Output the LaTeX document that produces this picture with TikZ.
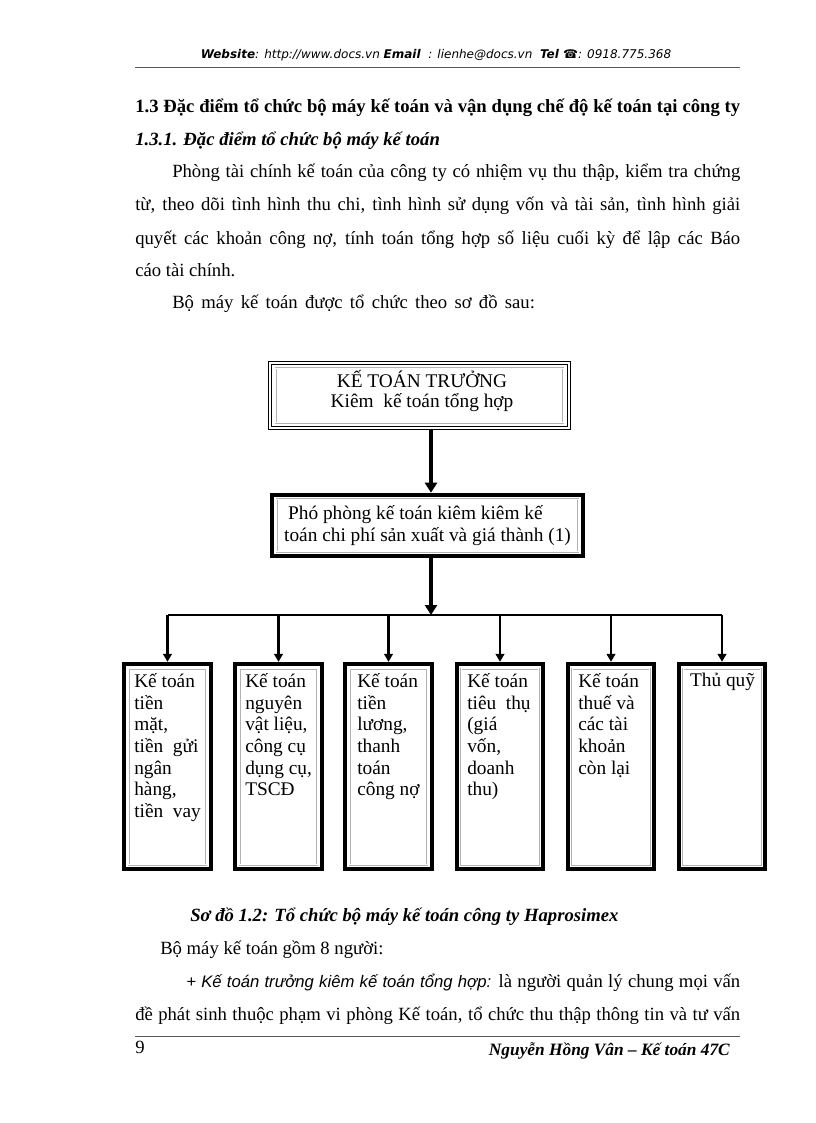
\documentclass[tikz,border=0pt]{standalone}
\usepackage{fontspec}
\setmainfont{Liberation Serif}
\newfontfamily\webfont{DejaVu Sans}
\newfontfamily\plusfont{Liberation Sans}
\usetikzlibrary{arrows.meta,fit}
\newcommand\docsize{\fontsize{14pt}{16pt}\selectfont}
\newcommand\boxsize{\fontsize{14.5pt}{16.3pt}\selectfont}
\tikzset{
  head box/.style={
    draw=black, line width=0.6pt, double=white, double distance=1.8pt,
    minimum width=224pt, minimum height=49pt, inner sep=0pt,
  },
  lead box/.style={
    draw=black, line width=3.2pt,
    minimum width=233pt, minimum height=46pt, inner sep=0pt,
    align=left, font=\boxsize,
  },
  unit box/.style={
    draw=black, line width=3pt,
    minimum width=65pt, minimum height=154pt, inner sep=0pt,
  },
  inner line/.style={
    draw=gray!60, line width=0.4pt, double=white, double distance=0.7pt,
  },
  box text/.style={
    inner sep=0pt, align=left, font=\boxsize,
  },
  body/.style={
    anchor=base west, inner sep=0pt, font=\docsize,
  },
  main arrow/.style={
    line width=2.6pt, -{Triangle[length=7.5pt,width=9pt]},
  },
  drop arrow/.style={
    line width=1.8pt, -{Triangle[length=6pt,width=6.5pt]},
  },
}
\begin{document}
\begin{tikzpicture}[x=0.75pt,y=0.75pt,yscale=-1,xscale=1]
\useasboundingbox (0,0) rectangle (816,1123);
\fill[white] (0,0) rectangle (816,1123);

% Header
\node [anchor=base, inner sep=0pt, font=\webfont\fontsize{9pt}{11pt}\selectfont\itshape] (web) at (436,59)
  {{\bfseries Website}: http://www.docs.vn {\bfseries Email} \ : lienhe@docs.vn \ {\bfseries Tel ☎}: 0918.775.368};
\draw [gray!70!black, line width=0.5pt] (135,67) -- (740,67);

% Text Node
\node [body, font=\docsize\bfseries] (h13) at (135,113)
  {\hbox to 453.75pt{1.3 Đặc điểm tổ chức bộ máy kế toán và vận dụng chế độ kế toán tại công ty}};
\node [body, font=\docsize\bfseries\itshape] (h131) at (135,146) {1.3.1. Đặc điểm tổ chức bộ máy kế toán};
\node [body] (p1) at (172,178) {\hbox to 426pt{Phòng tài chính kế toán của công ty có nhiệm vụ thu thập, kiểm tra chứng}};
\node [body] (p2) at (135,211) {\hbox to 453.75pt{từ, theo dõi tình hình thu chi, tình hình sử dụng vốn và tài sản, tình hình giải}};
\node [body] (p3) at (135,244) {\hbox to 453.75pt{quyết các khoản công nợ, tính toán tổng hợp số liệu cuối kỳ để lập các Báo}};
\node [body] (p4) at (135,276) {cáo tài chính.};
\node [body] (p5) at (172,308) {\hbox to 272pt{Bộ máy kế toán được tổ chức theo sơ đồ sau:}};

% Boxes
\node [head box] (ktt) at (419.5,395.5) {};
\node [inner line, fit=(ktt), inner sep=-4.5pt] (ktt i) {};
\node [inner sep=0pt, align=center, font=\boxsize] (ktt t) at (422,391)
  {KẾ TOÁN TRƯỞNG\\[-1.5pt]Kiêm \ kế toán tổng hợp};
\node [lead box] (pp) at (427.5,525.5) {\hspace{3pt}Phó phòng kế toán kiêm kiêm kế\\toán chi phí sản xuất và giá thành (1)};
\node [unit box] (kt1) at (167.5,766.5) {};
\node [unit box] (kt2) at (278.5,766.5) {};
\node [unit box] (kt3) at (388.5,766.5) {};
\node [unit box] (kt4) at (500,766.5) {};
\node [unit box] (kt5) at (611,766.5) {};
\node [unit box] (kt6) at (722,766.5) {};
\foreach \n in {pp,kt1,kt2,kt3,kt4,kt5,kt6}
  \node [inner line, fit=(\n), inner sep=-5pt] (\n i) {};

% Text Node
\node [box text, anchor=north west] (t1) at (134,673) {Kế toán\\tiền\\mặt,\\tiền \ gửi\\ngân\\hàng,\\tiền \ vay};
\node [box text, anchor=north west] (t2) at (245,673) {Kế toán\\nguyên\\vật liệu,\\công cụ\\dụng cụ,\\TSCĐ};
\node [box text, anchor=north west] (t3) at (357,673) {Kế toán\\tiền\\lương,\\thanh\\toán\\công nợ};
\node [box text, anchor=north west] (t4) at (467,673) {Kế toán\\tiêu \ thụ\\(giá\\vốn,\\doanh\\thu)};
\node [box text, anchor=north west] (t5) at (578,673) {Kế toán\\thuế và\\các tài\\khoản\\còn lại};
\node [box text, anchor=north] (t6) at (722.5,673) {Thủ quỹ};

% Connectors
\coordinate (trunk) at (431,615);
\draw [main arrow] (ktt.south -| trunk) -- (pp.north -| trunk);
\draw [main arrow] (pp.south -| trunk) -- (trunk);
\draw [line width=1.8pt] (kt1.north |- trunk) -- (kt6.north |- trunk);
\foreach \n in {kt1,kt2,kt3,kt4,kt5,kt6}
  \draw [drop arrow] (\n.north |- trunk) -- (\n.north);

% Text Node
\node [body, font=\docsize\bfseries\itshape] (cap) at (190,921) {Sơ đồ 1.2: Tổ chức bộ máy kế toán công ty Haprosimex};
\node [body] (q1) at (160,954) {Bộ máy kế toán gồm 8 người:};
\node [body] (q2) at (186,987)
  {\hbox to 415.5pt{{\plusfont\itshape\fontsize{12.5pt}{16pt}\selectfont + Kế toán trưởng kiêm kế toán tổng hợp:} là người quản lý chung mọi vấn}};
\node [body] (q3) at (135,1020) {\hbox to 453.75pt{đề phát sinh thuộc phạm vi phòng Kế toán, tổ chức thu thập thông tin và tư vấn}};

% Footer
\draw [gray!70!black, line width=0.6pt] (135,1036) -- (740,1036);
\node [body] (pg) at (135,1053) {9};
\node [body, anchor=base east, font=\fontsize{13pt}{16pt}\selectfont\bfseries\itshape] (sign) at (730,1055) {Nguyễn Hồng Vân – Kế toán 47C};
\end{tikzpicture}
\end{document}
